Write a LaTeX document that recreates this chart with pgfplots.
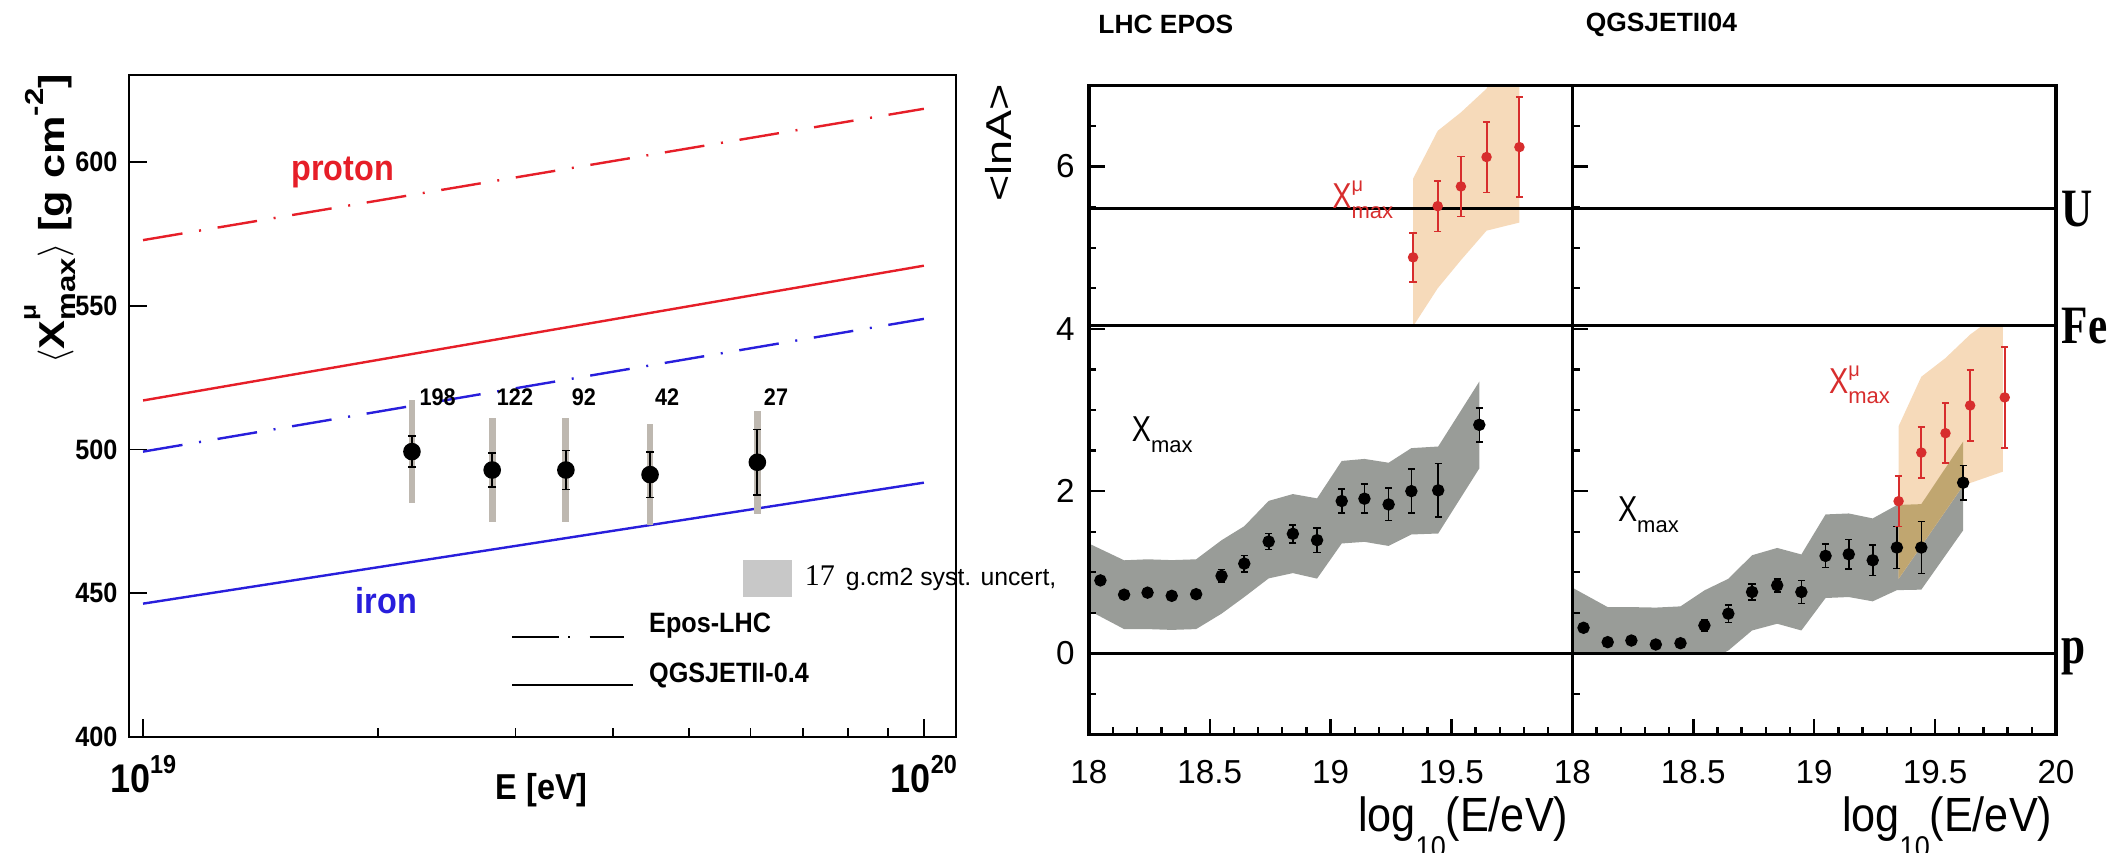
\documentclass[border=0pt]{standalone}
\usepackage{fontspec}
\setmainfont{Liberation Sans}
\newfontfamily\serifb[FakeStretch=0.8]{Liberation Serif}
\newfontfamily\serifn{Liberation Serif}
\newfontfamily\cond[FakeStretch=0.9]{Liberation Sans}
\newfontfamily\condX[FakeStretch=0.8]{Liberation Sans}
\newfontfamily\tall[FakeStretch=1.25]{Liberation Sans}
\newfontfamily\lbold[FakeStretch=0.9]{Liberation Sans}
\newfontfamily\ylab[FakeStretch=1.2]{Liberation Sans}
\usepackage{pgfplots}
\usepackage{pgfplotstable}
\pgfplotsset{compat=1.18}

\definecolor{pred}{RGB}{230,30,40}
\definecolor{pblue}{RGB}{40,30,220}
\definecolor{sysg}{RGB}{190,184,176}
\definecolor{bandg}{RGB}{153,156,152}
\definecolor{bando}{RGB}{246,218,186}
\definecolor{bandov}{RGB}{192,166,112}
\definecolor{mred}{RGB}{215,45,45}
\definecolor{boxg}{RGB}{200,200,200}

\newcommand\lt[1]{10\raisebox{0.9ex}{\fontsize{6.5}{6.5}\selectfont #1}}
\newcommand\Xlab[1]{{\condX\fontsize{9}{9}\selectfont X}#1\raisebox{-2.6pt}{\fontsize{5.5}{5.5}\selectfont max}}

% Auger Xmu_max data (left)
\pgfplotstableread{
E X stat sys
2.21e19 499.3 5.3 17.8
2.80e19 492.9 5.8 18
3.48e19 492.9 6.8 18
4.46e19 491.3 8.0 17.5
6.12e19 495.6 11.4 18
}\augerdata

% EPOS Xmax lnA
\pgfplotstableread{
lg v e
18.048 0.90 0.03
18.146 0.724 0.03
18.243 0.749 0.03
18.343 0.71 0.03
18.444 0.73 0.03
18.549 0.955 0.078
18.643 1.107 0.10
18.744 1.379 0.10
18.844 1.474 0.11
18.944 1.396 0.15
19.046 1.878 0.145
19.140 1.907 0.18
19.240 1.836 0.20
19.334 2.00 0.27
19.445 2.01 0.33
19.615 2.817 0.21
}\eposx

% EPOS Xmu lnA
\pgfplotstableread{
lg v e
19.341 4.881 0.30
19.443 5.512 0.31
19.539 5.755 0.37
19.645 6.117 0.435
19.781 6.24 0.615
}\eposmu

% QGSJET Xmax lnA
\pgfplotstableread{
lg v e
18.046 0.316 0.03
18.146 0.139 0.03
18.244 0.159 0.03
18.345 0.11 0.03
18.447 0.126 0.03
18.546 0.345 0.07
18.645 0.49 0.11
18.743 0.757 0.10
18.847 0.839 0.08
18.947 0.757 0.14
19.047 1.202 0.145
19.143 1.222 0.18
19.242 1.148 0.19
19.342 1.305 0.26
19.443 1.305 0.32
19.616 2.104 0.21
}\qgsx

% QGSJET Xmu lnA
\pgfplotstableread{
lg v e
19.349 1.876 0.31
19.443 2.475 0.315
19.543 2.714 0.37
19.645 3.056 0.44
19.788 3.155 0.62
}\qgsmu

\pgfplotsset{
  rightax/.style={
    scale only axis, width=120.9pt, height=162.3pt, anchor=south west,
    xmin=18, xmax=20, ymin=-1, ymax=7,
    xtick={18,18.5,19,19.5,20},
    minor xtick={18.1,18.2,18.3,18.4,18.6,18.7,18.8,18.9,19.1,19.2,19.3,19.4,19.6,19.7,19.8,19.9},
    ytick={0,2,4,6},
    minor ytick={-0.5,0.5,1,1.5,2.5,3,3.5,4.5,5,5.5,6.5},
    tick align=inside, tick pos=left,
    axis on top,
    axis line style={line width=0.9pt},
    tick style={line width=0.6pt, black},
    major tick length=4pt, minor tick length=1.9pt,
    ticklabel style={font=\fontsize{8.3}{8.3}\selectfont},
    xticklabel style={yshift=-3.0pt},
    /pgf/number format/assume math mode=true,
  },
  blackpts/.style={only marks, mark=*, mark size=1.35pt, black,
    error bars/.cd, y dir=both, y explicit,
    error bar style={line width=0.4pt, black},
    error mark options={rotate=90, black, mark size=0.9pt, line width=0.4pt}},
  redpts/.style={only marks, mark=*, mark size=1.1pt, mred,
    error bars/.cd, y dir=both, y explicit,
    error bar style={line width=0.5pt, mred},
    error mark options={rotate=90, mred, mark size=0.9pt, line width=0.4pt}},
  hline/.style={black, line width=0.8pt},
  dashdot/.style={dash pattern=on 10pt off 4.2pt on 0.5pt off 4.2pt},
}

\begin{document}
\begin{tikzpicture}
\useasboundingbox (0,0) rectangle (528.5pt,213.25pt);

%% ---------------- left plot ----------------
\begin{axis}[
  at={(32.25pt,29pt)}, anchor=south west, scale only axis,
  width=206.75pt, height=165.6pt,
  xmode=log, xmin=9.6e18, xmax=1.1e20, ymin=400, ymax=630.5,
  xtick={1e19,1e20}, xticklabels={\lt{19},\lt{20}},
  minor xtick={2e19,3e19,4e19,5e19,6e19,7e19,8e19,9e19},
  ytick={400,450,500,550,600},
  tick align=inside, tick pos=left,
  major tick length=4.6pt, minor tick length=2.3pt,
  axis line style={line width=0.5pt},
  tick style={line width=0.4pt, black},
  yticklabel style={font=\lbold\bfseries\fontsize{7}{7}\selectfont, xshift=0.6pt},
  xticklabel style={font=\lbold\bfseries\fontsize{10}{10}\selectfont, yshift=-1pt},
  /pgf/number format/assume math mode=true,
  axis on top,
]
\addplot[pred, line width=0.6pt, dashdot] coordinates {(1e19,572.9) (1e20,618.6)};
\addplot[pred, line width=0.6pt] coordinates {(1e19,517.1) (1e20,564.0)};
\addplot[pblue, line width=0.6pt, dashdot] coordinates {(1e19,499.3) (1e20,545.5)};
\addplot[pblue, line width=0.6pt] coordinates {(1e19,446.4) (1e20,488.5)};
\addplot[only marks, mark=none, error bars/.cd, y dir=both, y explicit, error mark=none,
  error bar style={line width=1.7pt, sysg}] table[x=E, y=X, y error=sys] {\augerdata};
\addplot[only marks, mark=*, mark size=1.75pt, black, error bars/.cd, y dir=both, y explicit,
  error bar style={line width=0.45pt, black},
  error mark options={rotate=90, black, mark size=1pt, line width=0.45pt}]
  table[x=E, y=X, y error=stat] {\augerdata};
\end{axis}

%% ---------------- right: LHC EPOS ----------------
\begin{axis}[rightax, at={(272.2pt,29.6pt)}, xticklabels={18,18.5,19,19.5,{}}]
\addplot[fill=bandg, draw=none] coordinates {
 (18.0,1.355) (18.146,1.148) (18.243,1.16) (18.343,1.15) (18.444,1.16) (18.549,1.395)
 (18.643,1.568) (18.744,1.88) (18.844,1.964) (18.944,1.911) (19.046,2.372) (19.14,2.397)
 (19.24,2.35) (19.334,2.53) (19.445,2.55) (19.615,3.35) (19.615,2.28) (19.445,1.478)
 (19.334,1.466) (19.24,1.325) (19.14,1.375) (19.046,1.355) (18.944,0.922) (18.844,0.99)
 (18.744,0.925) (18.643,0.695) (18.549,0.49) (18.444,0.30) (18.343,0.29) (18.243,0.30)
 (18.146,0.30) (18.0,0.53)};
\addplot[fill=bando, draw=none] coordinates {
 (19.341,4.03) (19.341,5.85) (19.443,6.44) (19.54,6.67) (19.645,6.96) (19.70,7.3)
 (19.781,7.3) (19.781,5.31) (19.645,5.21) (19.54,4.85) (19.443,4.5)};
\addplot[hline] coordinates {(18,5.48) (20,5.48)};
\addplot[hline] coordinates {(18,4.04) (20,4.04)};
\addplot[hline] coordinates {(18,0) (20,0)};
\addplot[blackpts] table[x=lg, y=v, y error=e] {\eposx};
\addplot[redpts] table[x=lg, y=v, y error=e] {\eposmu};
\end{axis}

%% ---------------- right: QGSJETII04 ----------------
\begin{axis}[rightax, at={(393.1pt,29.6pt)}, yticklabels={}, xticklabels={18,18.5,19,19.5,20}]
\addplot[fill=bandg, draw=none] coordinates {
 (18.0,0.81) (18.146,0.571) (18.244,0.571) (18.345,0.565) (18.447,0.58) (18.546,0.777)
 (18.645,0.92) (18.743,1.21) (18.847,1.30) (18.947,1.22) (19.047,1.713) (19.143,1.725)
 (19.242,1.664) (19.342,1.828) (19.443,1.84) (19.616,2.61) (19.616,1.517) (19.443,0.786)
 (19.342,0.78) (19.242,0.642) (19.143,0.695) (19.047,0.683) (18.947,0.283) (18.847,0.366)
 (18.743,0.283) (18.645,0.036) (18.62,0) (18.0,0)};
\addplot[fill=bando, draw=none] coordinates {
 (19.349,0.92) (19.349,2.80) (19.443,3.41) (19.543,3.64) (19.645,3.93) (19.70,4.05)
 (19.78,4.05) (19.78,2.24) (19.616,2.07)};
\addplot[fill=bandov, draw=none] coordinates {
 (19.349,0.92) (19.349,1.83) (19.443,1.84) (19.616,2.61) (19.616,2.07)};
\addplot[hline] coordinates {(18,5.48) (20,5.48)};
\addplot[hline] coordinates {(18,4.04) (20,4.04)};
\addplot[hline] coordinates {(18,0) (20,0)};
\addplot[blackpts] table[x=lg, y=v, y error=e] {\qgsx};
\addplot[redpts] table[x=lg, y=v, y error=e] {\qgsmu};
\end{axis}

%% ---------------- texts ----------------
% left plot
\node[rotate=90, anchor=east, inner sep=0pt, font=\ylab\bfseries\fontsize{9}{9}\selectfont] at (12.5pt,194.9pt)
 {$\langle$X\rlap{\raisebox{0.8em}{\fontsize{5.5}{5.5}\selectfont μ}}\raisebox{-0.3em}{\fontsize{6.5}{6.5}\selectfont max}$\rangle$ [g cm\raisebox{0.6em}{\fontsize{6.5}{6.5}\selectfont -2}]};
\node[font=\lbold\bfseries\fontsize{9}{9}\selectfont, inner sep=0pt] at (135.4pt,15.8pt) {E [eV]};
\node[font=\lbold\bfseries\fontsize{9}{9}\selectfont, text=pred, inner sep=0pt] at (85.65pt,170.2pt) {proton};
\node[font=\lbold\bfseries\fontsize{9}{9}\selectfont, text=pblue, inner sep=0pt] at (96.6pt,63.1pt) {iron};
\foreach \xx/\tt in {109.4/198,128.75/122,146/92,166.8/42,194/27}
  \node[font=\lbold\bfseries\fontsize{6}{6}\selectfont, inner sep=0pt] at (\xx pt,113.9pt) {\tt};
% legend
\draw[line width=0.5pt] (128.1pt,54.1pt) -- (139.8pt,54.1pt);
\draw[line width=0.5pt] (142.0pt,54.1pt) -- (142.6pt,54.1pt);
\draw[line width=0.5pt] (147.4pt,54.1pt) -- (156.1pt,54.1pt);
\draw[line width=0.5pt] (128.1pt,41.95pt) -- (158.2pt,41.95pt);
\node[anchor=west, inner sep=0pt, font=\lbold\bfseries\fontsize{7}{7}\selectfont] at (162.1pt,56.9pt) {Epos-LHC};
\node[anchor=west, inner sep=0pt, font=\lbold\bfseries\fontsize{7}{7}\selectfont] at (162.1pt,44.25pt) {QGSJETII-0.4};
% syst box
\fill[boxg] (185.75pt,64pt) rectangle (198pt,73.25pt);
\node[anchor=west, inner sep=0pt] at (201pt,68.6pt)
 {{\serifn\fontsize{7.5}{7.5}\selectfont 17} {\fontsize{6.2}{6.2}\selectfont g.cm2 syst. uncert,}};

% right plot
\node[rotate=90, anchor=east, inner sep=0pt, font=\tall\fontsize{9}{9}\selectfont] at (249.5pt,192.5pt) {<lnA>};
\node[anchor=west, inner sep=0pt, font=\bfseries\fontsize{6.6}{6.6}\selectfont] at (274.4pt,207.1pt) {LHC EPOS};
\node[anchor=west, inner sep=0pt, font=\bfseries\fontsize{6.6}{6.6}\selectfont] at (396.25pt,207.1pt) {QGSJETII04};
\node[anchor=base east, inner sep=0pt] at (392.25pt,5.3pt)
 {\cond\fontsize{12}{12}\selectfont log\raisebox{-6.5pt}{\fontsize{7.5}{7.5}\selectfont 10}(E/eV)};
\node[anchor=base east, inner sep=0pt] at (513.25pt,5.3pt)
 {\cond\fontsize{12}{12}\selectfont log\raisebox{-6.5pt}{\fontsize{7.5}{7.5}\selectfont 10}(E/eV)};
\node[anchor=west, inner sep=0pt, font=\serifb\bfseries\fontsize{13.5}{13.5}\selectfont] at (515.25pt,161.06pt) {U};
\node[anchor=west, inner sep=0pt, font=\serifb\bfseries\fontsize{13.5}{13.5}\selectfont] at (515.25pt,131.85pt) {Fe};
\node[anchor=mid west, inner sep=0pt, font=\serifb\bfseries\fontsize{13.5}{13.5}\selectfont] at (515.25pt,49.89pt) {p};
\node[anchor=base west, inner sep=0pt] at (282.75pt,102.8pt) {\Xlab{}};
\node[anchor=base west, inner sep=0pt, text=mred] at (332.9pt,161.2pt) {\Xlab{\rlap{\raisebox{4.2pt}{\fontsize{5}{5}\selectfont μ}}}};
\node[anchor=base west, inner sep=0pt] at (404.3pt,82.8pt) {\Xlab{}};
\node[anchor=base west, inner sep=0pt, text=mred] at (457.1pt,114.9pt) {\Xlab{\rlap{\raisebox{4.2pt}{\fontsize{5}{5}\selectfont μ}}}};
\end{tikzpicture}
\end{document}
